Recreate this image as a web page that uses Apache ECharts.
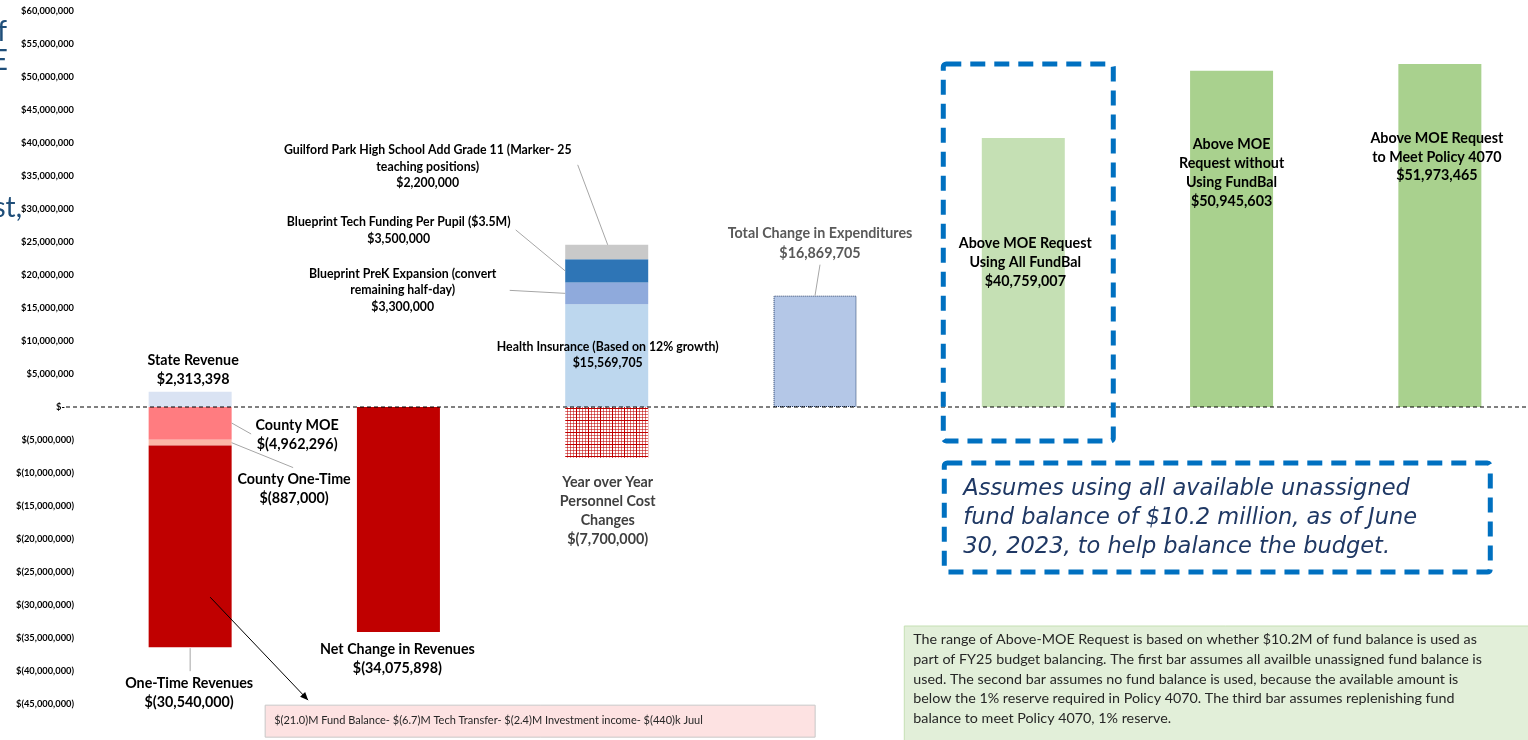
<!DOCTYPE html>
<html>
<head>
<meta charset="utf-8">
<script src="https://cdn.jsdelivr.net/npm/echarts@6/dist/echarts.min.js"></script>
<style>
  html, body { margin: 0; padding: 0; background: #fff; overflow: hidden; }
  /* the plot runs slightly past the right edge of the window */
  #chart { width: 1546px; height: 740px; }
</style>
</head>
<body>
<div id="chart"></div>
<script>
// ---- Data ----------------------------------------------------------------
const categories = [
  'Revenue Changes', 'Net Change in Revenues', 'Expenditure Changes',
  'Total Change in Expenditures', 'Above MOE Using All FundBal',
  'Above MOE without FundBal', 'Above MOE Policy 4070'
];

// one entry per stacked segment
const segmentNames = [
  'State Revenue', 'County MOE', 'County One-Time', 'One-Time Revenues',
  'Net Change in Revenues',
  'Health Insurance (Based on 12% growth)',
  'Blueprint PreK Expansion (convert\nremaining half-day)',
  'Blueprint Tech Funding Per Pupil ($3.5M)',
  'Guilford Park High School Add Grade 11 (Marker- 25\nteaching positions)',
  'Year over Year\nPersonnel Cost\nChanges',
  'Total Change in Expenditures',
  'Above MOE Request\nUsing All FundBal',
  'Above MOE\nRequest without\nUsing FundBal',
  'Above MOE Request\nto Meet Policy 4070'
];
const segmentValues = [
  2313398, -4962296, -887000, -30540000,
  -34075898,
  15569705, 3300000, 3500000, 2200000, -7700000,
  16869705,
  40759007, 50945603, 51973465
];
const segmentColumn = [0, 0, 0, 0, 1, 2, 2, 2, 2, 2, 3, 4, 5, 6];

const axisMin = -45000000;
const axisMax = 60000000;
const axisStep = 5000000;

const fundBalanceNote = '$(21.0)M Fund Balance- $(6.7)M Tech Transfer- $(2.4)M Investment income- $(440)k Juul';
const assumptionLines = [
  'Assumes using all available unassigned',
  'fund balance of $10.2 million, as of June',
  '30, 2023, to help balance the budget.'
];
const rangeNoteLines = [
  'The range of Above-MOE Request is based on whether $10.2M of fund balance is used as',
  'part of FY25 budget balancing. The first bar assumes all availble unassigned fund balance is',
  'used. The second bar assumes no fund balance is used, because the available amount is',
  'below the 1% reserve required in Policy 4070. The third bar assumes replenishing fund',
  'balance to meet Policy 4070, 1% reserve.'
];
const titleFragments = ['of', 'MOE', 'cost,'];

// ---- Styles --------------------------------------------------------------
function crossHatch() {
  const c = document.createElement('canvas');
  c.width = 12; c.height = 12;
  const g = c.getContext('2d');
  g.fillStyle = '#ffffff';
  g.fillRect(0, 0, 12, 12);
  g.fillStyle = 'rgba(192,0,0,0.55)';
  for (let k = 0; k < 12; k += 3) {
    g.fillRect(k, 0, 1, 12);
    g.fillRect(0, k, 12, 1);
  }
  g.fillStyle = '#c00000';
  g.fillRect(0, 0, 1, 12);
  g.fillRect(0, 0, 12, 1);
  return c;
}

const segmentColors = [
  '#dae3f3', '#ff7c80', '#fbb7a5', '#c00000',
  '#c00000',
  '#bdd7ee', '#8faadc', '#2e75b6', '#c9c9c9',
  { image: crossHatch(), repeat: 'repeat' },
  '#b4c7e7',
  '#c5e0b4', '#a9d18e', '#a9d18e'
];

const FONT = 'Lato, "Liberation Sans", sans-serif';
const BIG = 14.3;
const SMALL = 12.3;
const VIEW_W = 1528;

function money(v) {
  const s = Math.abs(Math.round(v)).toLocaleString('en-US');
  return v < 0 ? '$(' + s + ')' : '$' + s;
}

// ---- Chart ---------------------------------------------------------------
const chart = echarts.init(document.getElementById('chart'), null, { renderer: 'canvas' });

const series = segmentValues.map((v, i) => ({
  type: 'bar',
  name: segmentNames[i],
  stack: 'total',
  barWidth: 83,
  animation: false,
  data: categories.map((_, c) => (c === segmentColumn[i] ? v : '-')),
  itemStyle: i === 10
    ? { color: segmentColors[i], borderColor: '#1f3864', borderWidth: 1, borderType: 'dotted' }
    : { color: segmentColors[i] }
}));

chart.setOption({
  animation: false,
  grid: { left: 86, right: 2, top: 11, bottom: 36 },
  xAxis: { type: 'category', data: categories, show: false },
  yAxis: {
    type: 'value',
    min: axisMin, max: axisMax, interval: axisStep,
    axisLine: { show: false }, axisTick: { show: false }, splitLine: { show: false },
    axisLabel: {
      margin: 12, color: '#000', fontFamily: FONT, fontWeight: 'bold', fontSize: 9.3,
      formatter: v => (v === 0 ? '$-    ' : money(v))
    }
  },
  series
});

// ---- Annotations anchored to the bars -------------------------------------
const X = c => chart.convertToPixel({ xAxisIndex: 0 }, categories[c]);
const Y = v => chart.convertToPixel({ yAxisIndex: 0 }, v);

const posSum = categories.map(() => 0);
const negSum = categories.map(() => 0);
const seg = segmentValues.map((v, i) => {
  const c = segmentColumn[i];
  let a, b;
  if (v >= 0) { a = posSum[c]; b = a + v; posSum[c] = b; }
  else { a = negSum[c]; b = a + v; negSum[c] = b; }
  const top = Y(Math.max(a, b)), bottom = Y(Math.min(a, b));
  return { x: X(c), top, bottom, mid: (top + bottom) / 2 };
});
const zero = Y(0);
const half = 41.5;

function text(x, y, str, o = {}) {
  return {
    type: 'text', z: 100, silent: true,
    style: {
      x, y, text: str,
      fontFamily: o.family || FONT,
      fontSize: o.size || BIG,
      fontWeight: o.weight || 'bold',
      fontStyle: o.italic ? 'italic' : 'normal',
      fill: o.fill || '#000',
      align: o.align || 'center',
      verticalAlign: 'top',
      lineHeight: o.lh || 19
    }
  };
}
function line(x1, y1, x2, y2, o = {}) {
  return {
    type: 'line', z: o.z || 90, silent: true,
    shape: { x1, y1, x2, y2 },
    style: { stroke: o.stroke || '#a6a6a6', lineWidth: o.w || 1, lineDash: o.dash || null }
  };
}
function rect(x, y, w, h, style, z) {
  return { type: 'rect', z: z || 60, silent: true, shape: { x, y, width: w, height: h, r: style.r || 0 }, style };
}
function label(i) { return segmentNames[i] + '\n' + money(segmentValues[i]); }

const g = [];

// zero baseline
g.push(line(66, zero, VIEW_W, zero, { stroke: '#000', dash: [4, 3], z: 95 }));

// column 0: revenue pieces
const s0 = seg[0], s1 = seg[1], s2 = seg[2], s3 = seg[3];
g.push(text(s0.x + 3, s0.top - 41, label(0)));
g.push(line(s1.x + half, zero + 16, s1.x + 61, zero + 27));
g.push(text(s1.x + 107, zero + 8.5, label(1)));
g.push(line(s2.x + half, s2.mid, s2.x + 103, s2.bottom + 22));
g.push(text(s2.x + 104, s2.bottom + 24.5, label(2)));
g.push(line(s3.x, s3.bottom + 1, s3.x, s3.bottom + 24));
g.push(text(s3.x - 1, s3.bottom + 26.5, label(3)));

// arrow to the fund balance note
{
  const x1 = s3.x + 20, y1 = s3.bottom - 50, x2 = s3.x + 118, y2 = s3.bottom + 53;
  g.push(line(x1, y1, x2, y2, { stroke: '#000', z: 96 }));
  const ang = Math.atan2(y2 - y1, x2 - x1), L = 8, W = 3.5;
  const bx = x2 - L * Math.cos(ang), by = y2 - L * Math.sin(ang);
  g.push({
    type: 'polygon', z: 96, silent: true,
    shape: { points: [[x2, y2], [bx + W * Math.sin(ang), by - W * Math.cos(ang)], [bx - W * Math.sin(ang), by + W * Math.cos(ang)]] },
    style: { fill: '#000' }
  });
  g.push(rect(s3.x + 75, s3.bottom + 58, 550, 32, { fill: '#fde2e2', stroke: '#c8c8c8', lineWidth: 1 }));
  g.push(text(s3.x + 84, s3.bottom + 66, fundBalanceNote, { align: 'left', weight: 'normal', size: 11, lh: 14, fill: '#262626' }));
}

// column 1: net change
g.push(text(seg[4].x - 1, seg[4].bottom + 7.5, label(4)));

// column 2: expenditure pieces
const h = seg[5], pk = seg[6], tf = seg[7], gp = seg[8], yy = seg[9];
g.push(text(h.x + 1, zero - 68.5, label(5), { lh: 16.5, size: SMALL }));
g.push(line(pk.x - 97, pk.mid - 3, pk.x - half, pk.mid));
g.push(text(pk.x - 204, pk.mid - 28, label(6), { lh: 16.5, size: SMALL }));
g.push(line(tf.x - 91, tf.mid - 41, tf.x - half, tf.mid));
g.push(text(tf.x - 208, tf.mid - 57, label(7), { lh: 16.5, size: SMALL }));
g.push(line(gp.x - 29, gp.top - 80, gp.x + 1, gp.top));
g.push(text(gp.x - 179, gp.top - 103, label(8), { lh: 16.5, size: SMALL }));
g.push(text(yy.x + 1, yy.bottom + 14.5, label(9), { fill: '#404040', lh: 19.2 }));

// column 3: total change in expenditures
const tc = seg[10];
g.push(line(tc.x + 5, tc.top - 31, tc.x, tc.top));
g.push(text(tc.x + 5, tc.top - 72, label(10), { fill: '#595959', lh: 19.5 }));

// columns 4-6: above MOE requests
g.push(text(seg[11].x + 2, seg[11].top + 96, label(11)));
g.push(text(seg[12].x, seg[12].top + 64, label(12)));
g.push(text(seg[13].x - 3, seg[13].top + 65.6, label(13), { lh: 18.5 }));

// dashed highlight boxes
const c4 = seg[11].x;
const dashed = { fill: 'none', stroke: '#0070c0', lineWidth: 5, lineDash: [15, 9], r: 3 };
g.push(rect(c4 - 80, zero - 343, 170, 377, dashed, 97));
g.push(rect(c4 - 79, zero + 56, 546, 109, dashed, 97));
g.push(text(c4 - 60, zero + 67.5, assumptionLines.join('\n'),
  { family: '"DejaVu Sans", sans-serif', align: 'left', weight: 'normal', italic: true, size: 22.5, lh: 29, fill: '#1f3864' }));

// range note
g.push(rect(c4 - 119, zero + 219, 660, 130, { fill: '#e2efd9', stroke: '#c5e0b4', lineWidth: 1 }));
g.push(text(c4 - 110, zero + 222.5, rangeNoteLines.join('\n'),
  { align: 'left', weight: 'normal', size: 14.3, lh: 19.8, fill: '#262626' }));

// clipped title fragments along the left edge
g.push(text(7, 17, titleFragments[0], { align: 'right', weight: 'normal', size: 28, lh: 30, fill: '#1f4e79' }));
g.push(text(8, 46, titleFragments[1], { align: 'right', weight: 'normal', size: 28, lh: 30, fill: '#1f4e79' }));
g.push(text(22, 193, titleFragments[2], { align: 'right', weight: 'normal', size: 28, lh: 30, fill: '#1f4e79' }));

chart.setOption({ graphic: { elements: g } });
</script>
</body>
</html>
